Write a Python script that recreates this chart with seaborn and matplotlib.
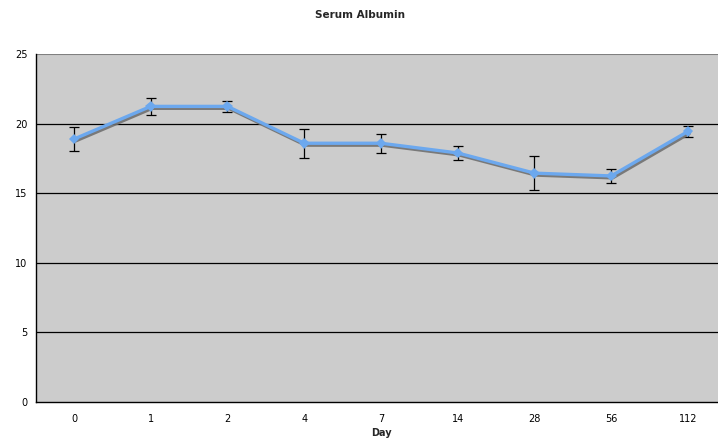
import matplotlib
matplotlib.use("Agg")
import matplotlib.pyplot as plt
import matplotlib.patheffects as pe
import seaborn as sns
import pandas as pd
import numpy as np

days = ["0", "1", "2", "4", "7", "14", "28", "56", "112"]
albumin = [18.9, 21.25, 21.25, 18.6, 18.6, 17.9, 16.45, 16.25, 19.45]
albumin_err = [0.85, 0.6, 0.4, 1.05, 0.7, 0.5, 1.2, 0.5, 0.4]

df = pd.DataFrame({"pos": np.arange(len(days)), "day": days,
                   "albumin": albumin, "err": albumin_err})

sns.set_style("white")
plt.rcParams["font.family"] = ["DejaVu Sans"]

fig = plt.figure(figsize=(7.18, 4.43), dpi=100)
ax = fig.add_axes([0.0496, 0.0926, 0.962, 0.785])
ax.set_facecolor("#CCCCCC")

# horizontal gridlines
for yv in [5, 10, 15, 20]:
    ax.axhline(yv, color="black", lw=0.9, zorder=1)
ax.axhline(25, color="#808080", lw=1.5, zorder=1)

ax.errorbar(df["pos"], df["albumin"], yerr=df["err"], fmt="none",
            ecolor="black", elinewidth=0.9, capsize=3.5, capthick=0.9, zorder=2)

sns.lineplot(data=df, x="pos", y="albumin", ax=ax, color="#6CA8EE",
             lw=2.4, marker="D", markersize=5.5, markeredgewidth=0,
             zorder=3,
             path_effects=[pe.SimpleLineShadow(offset=(1.0, -1.4), shadow_color="#707070", alpha=0.9),
                           pe.Normal()])

ax.set_xlim(-0.5, len(days) - 0.5)
ax.set_ylim(0, 25)
ax.set_yticks([0, 5, 10, 15, 20, 25])
ax.set_xticks(df["pos"])
ax.set_xticklabels(days)
ax.set_xticks(np.arange(-0.5, len(days), 1.0), minor=True)
ax.tick_params(axis="x", which="major", length=0, labelsize=7, pad=9, colors="black")
ax.tick_params(axis="x", which="minor", length=4, width=0.9, direction="out", color="black")
ax.tick_params(axis="y", which="major", length=4, width=0.9, direction="out",
               labelsize=7, pad=2, colors="black", color="black")

for s in ["top", "right"]:
    ax.spines[s].set_visible(False)
for s in ["left", "bottom"]:
    ax.spines[s].set_color("black")
    ax.spines[s].set_linewidth(1.0)

ax.set_xlabel("Day", fontsize=7, fontweight="bold", labelpad=2.5)
ax.set_ylabel("")
fig.text(0.5015, 0.966, "Serum Albumin", ha="center", va="center",
         fontsize=7.5, fontweight="bold")

fig.savefig("out.png", dpi=100, facecolor="white")
